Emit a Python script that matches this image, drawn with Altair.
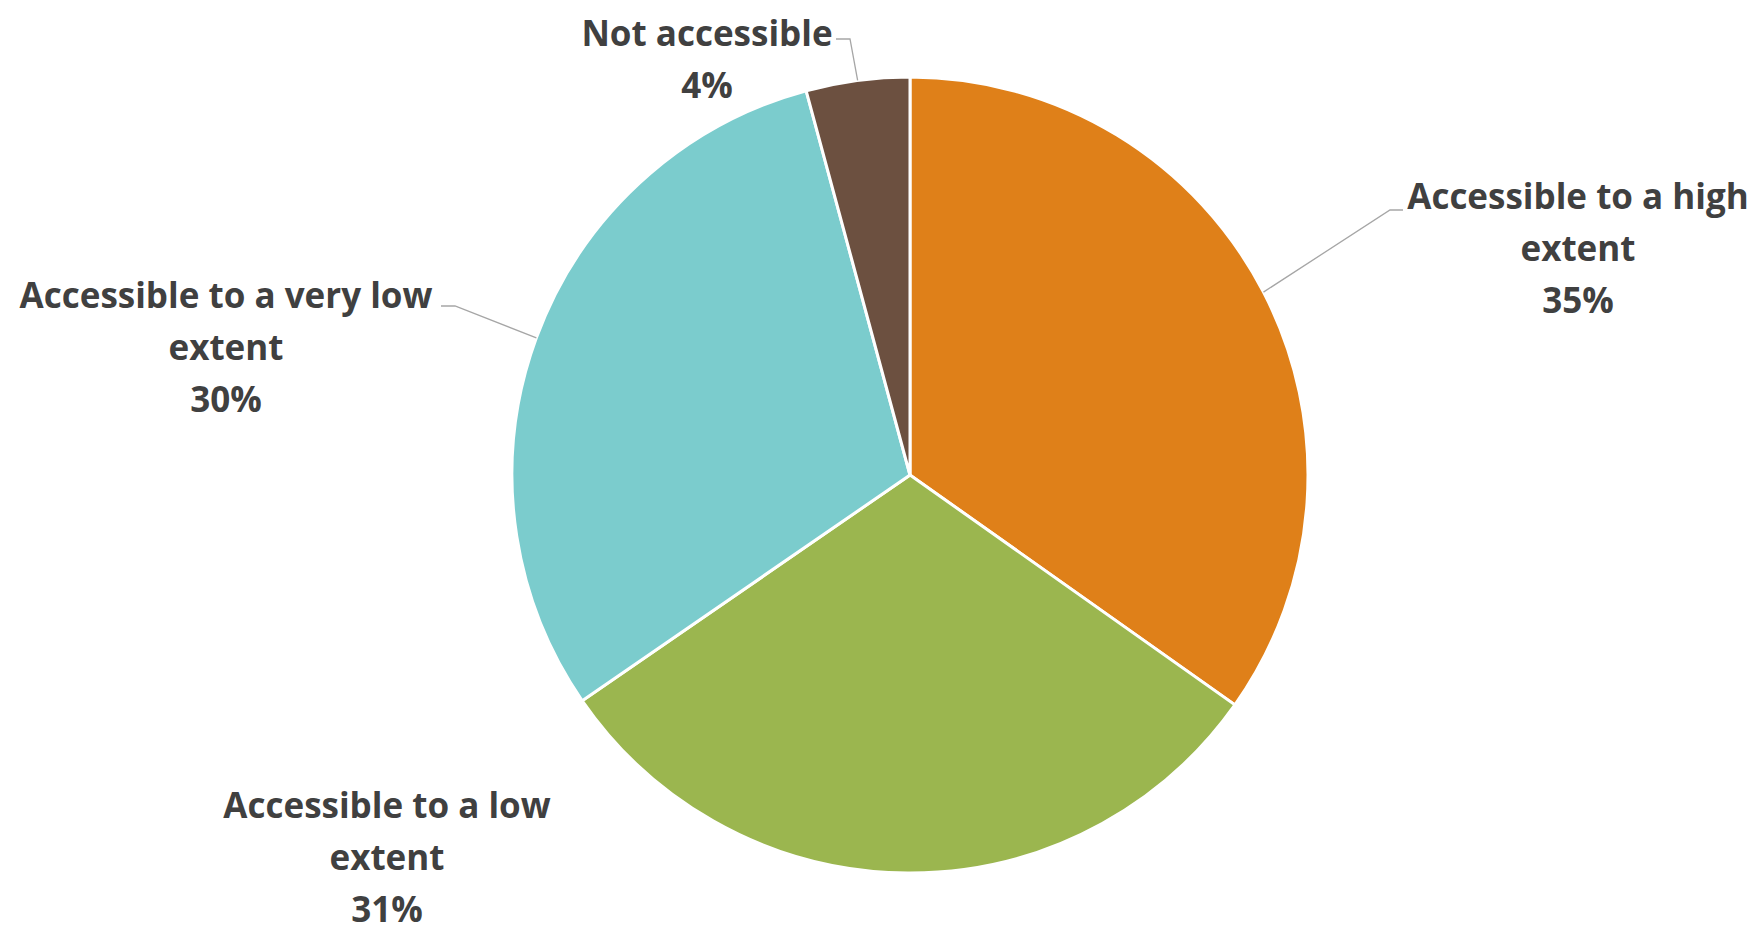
import math
import altair as alt
import pandas as pd

# ---- data ----
categories = [
    "Accessible to a high extent",
    "Accessible to a low extent",
    "Accessible to a very low extent",
    "Not accessible",
]
shares = [34.8, 30.6, 30.4, 4.2]
label_lines = [
    ["Accessible to a high", "extent"],
    ["Accessible to a low", "extent"],
    ["Accessible to a very low", "extent"],
    ["Not accessible"],
]
colors = ["#DF8019", "#9BB64F", "#7BCCCD", "#6C5040"]

# ---- layout / style ----
W, H = 1744, 924
CX, CY, R = 902, 467, 398
LINE_H = 52
# first-line centre of each label block, relative to pie centre (px)
label_offset = {
    "Accessible to a high extent": (668, -277),
    "Accessible to a low extent": (-523, 332),
    "Accessible to a very low extent": (-684, -178),
    "Not accessible": (-203, -440),
}
# leader line elbow and end relative to pie centre (px)
leader_offset = {
    "Accessible to a high extent": [(480, -265), (493, -265)],
    "Accessible to a very low extent": [(-455, -169), (-469, -169)],
    "Not accessible": [(-60, -436), (-74, -436)],
}

total = sum(shares)
df = pd.DataFrame({"category": categories, "share": shares, "idx": range(len(categories))})

# labels
lab_rows = []
for c, s, lines in zip(categories, shares, label_lines):
    ox, oy = label_offset[c]
    lab_rows.append({"category": c, "text": lines + [f"{round(s)}%"], "px": CX + ox, "py": CY + oy})
lab_df = pd.DataFrame(lab_rows)

# leader lines: start at the slice's mid-angle on its rim
led_rows = []
cum = 0.0
for c, s in zip(categories, shares):
    mid = (cum + s / 2) / total * 2 * math.pi
    cum += s
    if c in leader_offset:
        pts = [(CX + R * math.sin(mid), CY - R * math.cos(mid))]
        pts += [(CX + dx, CY + dy) for dx, dy in leader_offset[c]]
        for k, (x, y) in enumerate(pts):
            led_rows.append({"category": c, "seq": k, "px": x, "py": y})
led_df = pd.DataFrame(led_rows)

pie = alt.Chart(df).mark_arc(radius=R, stroke="white", strokeWidth=3).encode(
    theta=alt.Theta("share:Q", stack=True),
    order=alt.Order("idx:O"),
    color=alt.Color("category:N", scale=alt.Scale(domain=categories, range=colors), legend=None),
    x=alt.value(CX),
    y=alt.value(CY),
)

leaders = alt.Chart(led_df).mark_line(color="#A6A6A6", strokeWidth=1.3).encode(
    x=alt.X("px:Q", scale=None, axis=None),
    y=alt.Y("py:Q", scale=None, axis=None),
    detail="category:N",
    order="seq:Q",
)

labels = alt.Chart(lab_df).mark_text(
    align="center", baseline="middle", lineHeight=LINE_H,
    font="Open Sans", fontSize=35, fontWeight="bold", color="#404040",
).encode(
    x=alt.X("px:Q", scale=None, axis=None),
    y=alt.Y("py:Q", scale=None, axis=None),
    text="text",
)

chart = alt.layer(pie, leaders, labels).properties(
    width=W, height=H, padding=0
).configure_view(stroke=None)

chart.save("out.html", embed_options={"renderer": "svg", "actions": False})
